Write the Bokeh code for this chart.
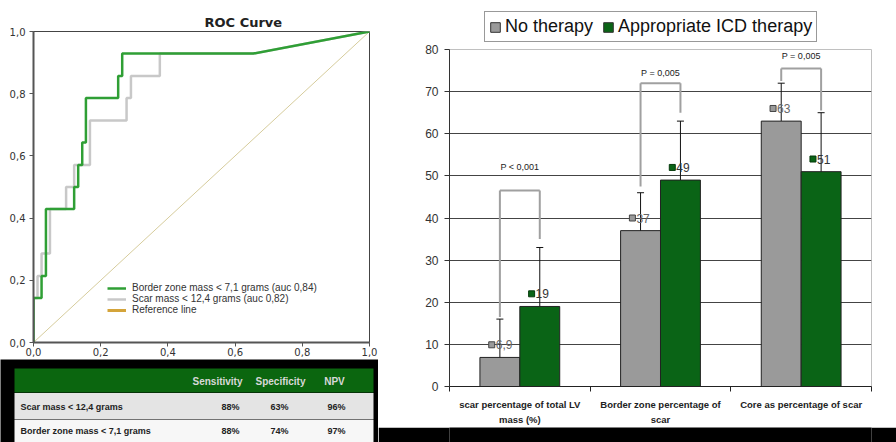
from bokeh.plotting import figure
from bokeh.models import (ColumnDataSource, Range1d, Whisker, TeeHead, Legend,
                          LegendItem, CustomJSTickFormatter, FixedTicker, LinearAxis)
from bokeh.transform import dodge
from bokeh.layouts import row, column
from bokeh.core.properties import value
from bokeh.embed import file_html
from bokeh.resources import INLINE

# ---------------- ROC data ----------------
border_fpr = [0, 0, 0.024, 0.024, 0.037, 0.037, 0.121, 0.121, 0.133, 0.133, 0.145, 0.145,
              0.156, 0.156, 0.252, 0.252, 0.264, 0.264, 0.654, 1.0]
border_tpr = [0, 0.143, 0.143, 0.214, 0.214, 0.429, 0.429, 0.5, 0.5, 0.571, 0.571, 0.643,
              0.643, 0.786, 0.786, 0.857, 0.857, 0.929, 0.929, 1.0]
scar_fpr = [0, 0, 0.012, 0.012, 0.024, 0.024, 0.049, 0.049, 0.097, 0.097, 0.121, 0.121,
            0.168, 0.168, 0.277, 0.277, 0.29, 0.29, 0.376, 0.376, 0.654, 1.0]
scar_tpr = [0, 0.143, 0.143, 0.214, 0.214, 0.286, 0.286, 0.429, 0.429, 0.5, 0.5, 0.571,
            0.571, 0.714, 0.714, 0.786, 0.786, 0.857, 0.857, 0.929, 0.929, 1.0]
ref_x = [0, 1]
ref_y = [0, 1]
roc_ticks = [0, 0.2, 0.4, 0.6, 0.8, 1.0]
roc_legend = ["Border zone mass < 7,1 grams (auc 0,84)",
              "Scar mass < 12,4 grams (auc 0,82)",
              "Reference line"]

# ---------------- table data ----------------
table_cols = ["Sensitivity", "Specificity", "NPV"]
table_rows = ["Scar mass < 12,4 grams", "Border zone mass < 7,1 grams"]
sensitivity = ["88%", "88%"]
specificity = ["63%", "74%"]
npv = ["96%", "97%"]

# ---------------- bar data ----------------
series = ["No therapy", "Appropriate ICD therapy"]
cats = ["scar percentage of total LV mass (%)", "Border zone percentage of scar",
        "Core as percentage of scar"]
cat_line1 = ["scar percentage of total LV", "Border zone percentage of",
             "Core as percentage of scar"]
cat_line2 = ["mass (%)", "scar", ""]
no_therapy = [6.9, 37, 63]
icd_therapy = [19, 49, 51]
no_lower = [3, 33, 59]
no_upper = [16, 46, 72]
icd_lower = [5, 35, 37]
icd_upper = [33, 63, 65]
no_text = ["6,9", "37", "63"]
icd_text = ["19", "49", "51"]
p_values = ["P < 0,001", "P = 0,005", "P = 0,005"]
bracket_top = [46.5, 72, 75.5]
bracket_left_low = [16.5, 47.5, 72.5]
bracket_right_low = [35, 65, 65.5]
p_text_y = [52, 74.5, 78.5]
y_ticks = [0, 10, 20, 30, 40, 50, 60, 70, 80]

SANS = value("Liberation Sans")
VERD = "DejaVu Sans"
GREY_FILL = "#9a9a9a"
GREEN_FILL = "#0a6416"

# =============== ROC figure ===============
roc = figure(width=378, height=359, x_range=Range1d(0, 1), y_range=Range1d(0, 1),
             output_backend="svg", toolbar_location=None, title="ROC Curve",
             min_border_left=33, min_border_right=9, min_border_top=31, min_border_bottom=17)
roc.title.align = "left"
roc.title.offset = 171
roc.title.text_font = VERD
roc.title.text_font_size = "13px"
roc.title.text_font_style = "bold"
roc.title.text_color = "#222222"
roc.title.standoff = 4
roc.xgrid.visible = False
roc.ygrid.visible = False
roc.outline_line_color = "#444444"
roc.outline_line_width = 1
fmt = CustomJSTickFormatter(code="return tick.toFixed(1).replace('.', ',');")
for ax in (roc.xaxis[0], roc.yaxis[0]):
    ax.ticker = FixedTicker(ticks=roc_ticks)
    ax.formatter = fmt
    ax.minor_tick_line_color = None
    ax.major_tick_in = 0
    ax.major_tick_out = 4
    ax.axis_line_color = "#555555"
    ax.axis_line_width = 2
    ax.major_tick_line_color = "#555555"
    ax.major_label_text_font = VERD
    ax.major_label_text_font_size = "10px"
    ax.major_label_text_color = "#333333"
roc.xaxis[0].major_label_standoff = 1
roc.yaxis[0].major_label_standoff = 4

roc.line(ref_x, ref_y, line_color="#d6cc9c", line_width=1)
r_scar = roc.line(scar_fpr, scar_tpr, line_color="#c8c8c8", line_width=2.5)
r_border = roc.line(border_fpr, border_tpr, line_color="#2f9f35", line_width=2.5)
r_refleg = roc.line(x=[float("nan")], y=[float("nan")], line_color="#d4a43a", line_width=3)
leg = Legend(items=[LegendItem(label=roc_legend[0], renderers=[r_border]),
                    LegendItem(label=roc_legend[1], renderers=[r_scar]),
                    LegendItem(label=roc_legend[2], renderers=[r_refleg])],
             location=(74, 27), orientation="vertical",
             glyph_width=19, glyph_height=10, label_height=10, spacing=0, padding=0,
             margin=0, label_standoff=6, label_text_font="Liberation Sans",
             label_text_font_size="10px", label_text_color="#333333",
             border_line_color=None, background_fill_alpha=0)
roc.add_layout(leg)

# =============== table figure ===============
tab = figure(width=378, height=83, x_range=Range1d(0, 378), y_range=Range1d(442, 359),
             output_backend="svg", toolbar_location=None, min_border=0,
             x_axis_type=None, y_axis_type=None,
             background_fill_color="black", border_fill_color="black", outline_line_color=None)
tab.grid.visible = False
row_y = [406, 430]
tab.quad(left=[14], right=[373], top=[368], bottom=[392], fill_color="#0b660f", line_color=None)
tab.quad(left=[14, 14], right=[373, 373], top=[392.5, 419.5], bottom=[419, 446],
         fill_color=["#e4e4e4", "#f7f7f7"], line_color=None)
tab.text(x=[217, 280, 334], y=[381, 381, 381], text=table_cols, text_align="center",
         text_baseline="middle", text_font=SANS, text_font_style="bold",
         text_font_size="10px", text_color="#d8d8d8")
tab.text(x=[20, 20], y=row_y, text=table_rows, text_align="left", text_baseline="middle",
         text_font=SANS, text_font_style="bold", text_font_size="9px", text_color="#222222")
for xc_, vals in zip([230, 279, 336], [sensitivity, specificity, npv]):
    tab.text(x=[xc_, xc_], y=row_y, text=vals, text_align="center", text_baseline="middle",
             text_font=SANS, text_font_style="bold", text_font_size="9px", text_color="#222222")

# =============== bar legend strip ===============
legfig = figure(width=518, height=42, output_backend="svg", toolbar_location=None,
                min_border=0, outline_line_color=None, x_range=Range1d(0, 1),
                y_range=Range1d(0, 1), x_axis_type=None, y_axis_type=None)
legfig.grid.visible = False
lg_no = legfig.vbar(x=[float("nan")], top=[float("nan")], width=0.1, fill_color=GREY_FILL,
                    line_color="#333333")
lg_icd = legfig.vbar(x=[float("nan")], top=[float("nan")], width=0.1, fill_color=GREEN_FILL,
                     line_color="#333333")
bleg = Legend(items=[LegendItem(label=series[0], renderers=[lg_no]),
                     LegendItem(label=series[1], renderers=[lg_icd])],
              location=(35, 0), orientation="horizontal", glyph_width=12, glyph_height=12,
              label_height=20, spacing=9, padding=4, margin=0, label_standoff=4,
              label_text_font="Liberation Sans", label_text_font_size="18px",
              label_text_color="#111111", border_line_color="#333333", border_line_width=1,
              background_fill_color="white", background_fill_alpha=1)
legfig.add_layout(bleg)

# =============== bar figure ===============
xc = [i + 0.5 for i in range(len(cats))]
src = ColumnDataSource(dict(xc=xc, no=no_therapy, icd=icd_therapy, no_lo=no_lower,
                            no_up=no_upper, icd_lo=icd_lower, icd_up=icd_upper,
                            no_txt=no_text, icd_txt=icd_text, p=p_values, btop=bracket_top,
                            bl=bracket_left_low, br=bracket_right_low, py=p_text_y))
bar = figure(x_range=Range1d(0, len(cats)), y_range=Range1d(0, 80), width=518, height=385,
             output_backend="svg", toolbar_location=None,
             min_border_left=71, min_border_right=25, min_border_top=7, min_border_bottom=38)
bar.outline_line_color = "#c0c0c0"
bar.xgrid.visible = False
bar.ygrid.ticker = FixedTicker(ticks=y_ticks[1:-1])
bar.ygrid.grid_line_color = "#444444"
ya = bar.yaxis[0]
ya.ticker = FixedTicker(ticks=y_ticks)
ya.minor_tick_line_color = None
ya.major_tick_in = 0
ya.major_tick_out = 5
ya.axis_line_color = "#333333"
ya.major_tick_line_color = "#333333"
ya.major_label_text_font = "Liberation Sans"
ya.major_label_text_font_size = "12px"
ya.major_label_text_color = "#333333"
ya.major_label_standoff = 6

cat_ticker = FixedTicker(ticks=xc, minor_ticks=list(range(len(cats) + 1)))
xa = bar.xaxis[0]
xa.ticker = cat_ticker
xa.formatter = CustomJSTickFormatter(args=dict(labels=cat_line1),
                                     code="return labels[Math.floor(tick)];")
xa.major_tick_line_color = None
xa.major_tick_out = 0
xa.minor_tick_in = 0
xa.minor_tick_out = 5
xa.minor_tick_line_color = "#222222"
xa.axis_line_color = "#222222"
xa.major_label_text_font = "Liberation Sans"
xa.major_label_text_font_style = "bold"
xa.major_label_text_font_size = "9.5px"
xa.major_label_text_color = "#222222"
xa.major_label_standoff = 7
xa2 = LinearAxis(ticker=FixedTicker(ticks=xc),
                 formatter=CustomJSTickFormatter(args=dict(labels=cat_line2),
                                                 code="return labels[Math.floor(tick)];"),
                 axis_line_color=None, major_tick_line_color=None, major_tick_out=0,
                 minor_tick_line_color=None, minor_tick_out=0, major_label_standoff=1,
                 major_label_text_font="Liberation Sans",
                 major_label_text_font_style="bold", major_label_text_font_size="9.5px",
                 major_label_text_color="#222222")
bar.add_layout(xa2, "below")

OFF = 0.1418
W = 0.2837
bar.vbar(x=dodge("xc", -OFF), top="no", width=W, source=src,
         fill_color=GREY_FILL, line_color="#222222", line_width=1)
bar.vbar(x=dodge("xc", OFF), top="icd", width=W, source=src,
         fill_color=GREEN_FILL, line_color="#222222", line_width=1)

# significance brackets
bcol = "#a0a0a0"
bar.segment(x0=dodge("xc", -OFF), x1=dodge("xc", -OFF), y0="bl", y1="btop", source=src,
            line_color=bcol, line_width=2)
bar.segment(x0=dodge("xc", OFF), x1=dodge("xc", OFF), y0="br", y1="btop", source=src,
            line_color=bcol, line_width=2)
bar.segment(x0=dodge("xc", -OFF), x1=dodge("xc", OFF), y0="btop", y1="btop", source=src,
            line_color=bcol, line_width=2)
bar.text(x="xc", y="py", text="p", source=src, text_align="center", text_baseline="middle",
         text_font=SANS, text_font_size="9px", text_color="#222222")

# error bars
for base, lo, up in ((-OFF, "no_lo", "no_up"), (OFF, "icd_lo", "icd_up")):
    wk = Whisker(base=dodge("xc", base), lower=lo, upper=up, source=src,
                 line_color="#111111", line_width=1,
                 upper_head=TeeHead(size=7, line_color="#111111", line_width=1),
                 lower_head=TeeHead(size=7, line_color="#111111", line_width=1))
    bar.add_layout(wk)

# data labels
MK = 0.058
bar.scatter(x=dodge("xc", -OFF - MK), y=dodge("no", 3), source=src,
            marker="square", size=6, fill_color=GREY_FILL, line_color="#444444")
bar.scatter(x=dodge("xc", OFF - MK), y=dodge("icd", 3), source=src,
            marker="square", size=6, fill_color=GREEN_FILL, line_color="#063a0c")
bar.text(x=dodge("xc", -OFF - MK), y=dodge("no", 3), text="no_txt",
         source=src, x_offset=4, text_align="left", text_baseline="middle",
         text_font=SANS, text_font_size="12px", text_color="#666666")
bar.text(x=dodge("xc", OFF - MK), y=dodge("icd", 3), text="icd_txt",
         source=src, x_offset=4, text_align="left", text_baseline="middle",
         text_font=SANS, text_font_size="12px", text_color="#333333")

strip = figure(width=518, height=15, output_backend="svg", toolbar_location=None,
               min_border=0, background_fill_color="black", border_fill_color="black",
               outline_line_color=None, x_range=Range1d(0, 1), y_range=Range1d(0, 1),
               x_axis_type=None, y_axis_type=None)
strip.grid.visible = False

layout = row(column(roc, row(tab)), column(legfig, bar, strip))
open("out.html", "w").write(file_html(layout, INLINE))
